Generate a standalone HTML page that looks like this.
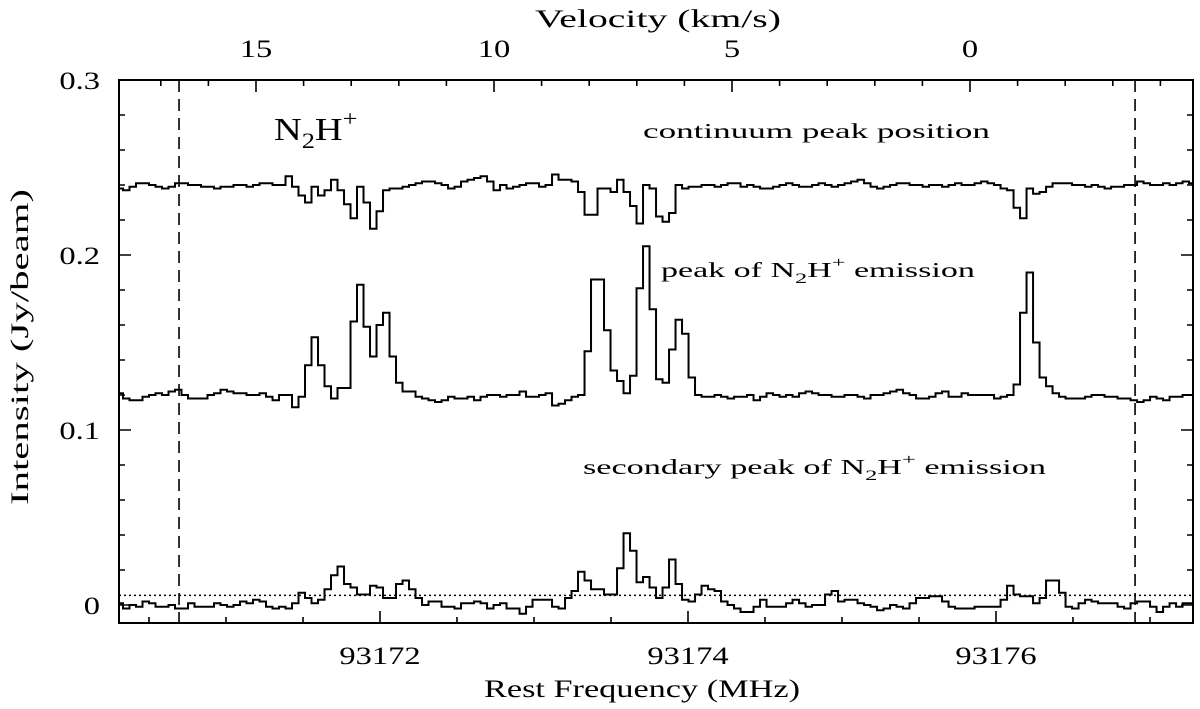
<!DOCTYPE html>
<html><head><meta charset="utf-8"><style>
html,body{margin:0;padding:0;background:#fff;}
svg{display:block;font-family:"Liberation Serif",serif;}
</style></head><body>
<svg id="chart" width="1200" height="709" viewBox="0 0 1200 709" xmlns="http://www.w3.org/2000/svg">
<g id="axes"></g>
<g id="series"></g>
<text x="642" y="697" font-size="25" text-anchor="middle" textLength="316" lengthAdjust="spacingAndGlyphs">Rest Frequency (MHz)</text>
<text x="658" y="27" font-size="25" text-anchor="middle" textLength="246" lengthAdjust="spacingAndGlyphs">Velocity (km/s)</text>
<text transform="translate(28,347) rotate(-90)" font-size="25" text-anchor="middle" textLength="316" lengthAdjust="spacingAndGlyphs">Intensity (Jy/beam)</text>
<text transform="translate(274,140) scale(1.2,1)" font-size="32">N<tspan font-size="22" dy="8">2</tspan><tspan dy="-8">H</tspan><tspan font-size="22" dy="-14">+</tspan></text>
<text x="643" y="138" font-size="21" textLength="347" lengthAdjust="spacingAndGlyphs">continuum peak position</text>
<text transform="translate(661,277) scale(1.62,1)" font-size="21">peak of N<tspan font-size="15" dy="6">2</tspan><tspan dy="-6">H</tspan><tspan font-size="15" dy="-10">+</tspan><tspan dy="10"> emission</tspan></text>
<text transform="translate(583,474) scale(1.63,1)" font-size="21">secondary peak of N<tspan font-size="15" dy="6">2</tspan><tspan dy="-6">H</tspan><tspan font-size="15" dy="-10">+</tspan><tspan dy="10"> emission</tspan></text>
</svg>
<script>
// channel data (Jy/beam), channel index 0..165
const channelStartMHz = 93170.289;
const channelWidthMHz = 0.04221;
const contPeak = [0.238,0.237,0.239,0.241,0.241,0.240,0.239,0.238,0.239,0.241,0.241,0.240,0.240,0.239,0.239,0.238,0.239,0.239,0.240,0.240,0.239,0.240,0.241,0.241,0.240,0.240,
0.245,0.239,0.234,0.230,0.239,0.234,0.237,0.243,0.237,0.229,0.221,0.239,0.230,0.215,0.225,0.237,0.238,
0.238,0.239,0.240,0.241,0.242,0.242,0.241,0.240,0.238,0.239,0.242,0.243,0.244,0.245,0.242,0.237,0.240,0.238,0.239,0.240,0.241,0.241,0.239,
0.240,0.246,0.243,0.243,0.242,0.236,0.223,0.223,0.238,0.238,0.236,0.243,0.236,0.228,0.218,0.240,0.238,0.222,0.219,0.224,0.240,0.238,
0.239,0.239,0.240,0.240,0.239,0.240,0.241,0.241,0.239,0.240,0.239,0.238,0.238,0.239,0.240,0.241,0.240,0.239,0.239,0.240,0.241,0.240,0.239,0.240,0.241,0.242,0.243,0.241,0.239,0.238,0.239,0.240,0.241,0.241,0.240,0.240,0.239,0.240,0.240,0.239,0.240,0.241,0.240,0.240,0.241,0.242,0.241,0.240,0.238,
0.237,0.227,0.221,0.238,0.235,0.236,0.239,0.241,
0.241,0.241,0.240,0.240,0.239,0.240,0.239,0.238,0.239,0.239,0.240,0.240,0.242,0.241,0.240,0.240,0.241,0.240,0.241,0.242,0.241];
const emisPeak = [0.121,0.118,0.117,0.117,0.119,0.120,0.121,0.120,0.122,0.123,0.120,0.118,0.118,0.118,0.120,0.121,0.123,0.122,0.121,0.121,0.120,0.120,0.121,0.119,0.117,0.120,0.120,0.113,0.119,
0.137,0.153,0.137,0.125,0.118,0.124,0.124,0.162,0.183,0.159,0.142,0.160,0.167,0.142,0.127,0.122,
0.122,0.119,0.118,0.117,0.116,0.117,0.119,0.118,0.118,0.119,0.117,0.119,0.120,0.120,0.119,0.120,0.120,0.122,0.119,0.119,0.120,0.121,0.114,0.115,0.117,0.119,0.120,
0.145,0.186,0.186,0.157,0.134,0.128,0.121,0.131,0.181,0.205,0.169,0.129,0.127,0.146,0.163,0.155,0.130,
0.120,0.119,0.119,0.120,0.119,0.118,0.119,0.119,0.120,0.117,0.119,0.121,0.120,0.119,0.120,0.119,0.121,0.122,0.121,0.120,0.120,0.119,0.119,0.120,0.120,0.119,0.118,0.120,0.120,0.121,0.122,0.123,0.121,0.120,0.118,0.118,0.119,0.121,0.122,0.119,0.119,0.121,0.120,0.120,0.120,0.120,0.118,0.119,0.120,
0.126,0.167,0.190,0.150,0.130,0.125,0.121,
0.119,0.118,0.118,0.118,0.119,0.120,0.120,0.119,0.119,0.118,0.118,0.117,0.116,0.117,0.119,0.118,0.117,0.119,0.119,0.120,0.120];
const secPeak = [0.001,-0.002,0.000,-0.001,0.002,0.001,-0.001,-0.001,0.000,-0.002,-0.002,0.001,-0.001,-0.001,-0.001,0.001,0.000,-0.001,0.000,0.002,0.001,0.003,0.002,-0.001,-0.002,-0.001,-0.002,0.001,
0.007,0.004,0.001,0.003,0.009,0.017,0.022,0.012,0.010,0.006,0.006,0.011,0.010,0.004,0.004,0.012,0.014,0.009,0.004,0.000,0.002,
0.002,-0.001,-0.001,-0.002,0.001,0.001,0.002,0.001,-0.002,0.000,0.001,-0.002,
-0.002,-0.005,-0.001,0.003,0.003,0.003,-0.001,-0.002,
0.004,0.008,0.019,0.014,0.009,0.009,0.006,0.006,0.021,0.041,0.031,0.013,0.016,0.010,0.004,0.010,0.026,0.012,0.003,0.002,0.006,0.011,0.009,0.008,0.002,0.000,-0.002,-0.004,-0.004,-0.001,0.003,-0.001,-0.001,-0.001,0.001,0.003,0.001,-0.001,0.000,0.000,0.006,0.008,0.002,0.003,0.003,0.001,0.000,-0.001,-0.003,-0.002,0.000,-0.001,-0.002,
0.001,0.004,0.004,0.005,0.005,0.002,-0.001,-0.002,-0.002,-0.002,-0.001,-0.001,-0.001,-0.001,0.003,0.011,0.006,0.005,0.005,0.001,0.004,0.014,0.014,0.007,-0.001,-0.002,0.001,0.003,0.002,0.001,0.001,0.001,-0.001,-0.002,0.001,0.002,0.002,-0.001,-0.004,-0.001,0.001,-0.001,0.001,0.001];
const yTickLabels = ["0","0.1","0.2","0.3"];
const yTickValues = [0,0.1,0.2,0.3];
const freqTickValues = [93172,93174,93176];
const velTickValues = [15,10,5,0];
const dashedFreqs = [93170.695,93176.903];
const dottedLevel = 0.0055;

const L=119,R=1193,T=80,B=623;
const fRef=93172, xRef=380, pxPerMHz=154;
function X(f){return xRef+(f-fRef)*pxPerMHz;}
function Y(v){return 605-v*1750;}
const velZeroX=970, pxPerKms=47.6;
function XV(v){return velZeroX-v*pxPerKms;}
const NS="http://www.w3.org/2000/svg";
const axes=document.getElementById('axes');
const series=document.getElementById('series');
function mk(tag,attrs,parent){const e=document.createElementNS(NS,tag);for(const k in attrs)e.setAttribute(k,attrs[k]);parent.appendChild(e);return e;}

const fr=mk('rect',{x:L,y:T,width:R-L,height:B-T,fill:'none',stroke:'#000','stroke-width':2},axes);



let d='';
for(let k=0;k<=0.3001;k+=0.02){const y=Y(k);const major=Math.abs(k*10-Math.round(k*10))<1e-6;const len=major?12:6;d+=`M${L},${y}h${len}M${R},${y}h${-len}`;}
for(let f=93170.5;f<=93177.01;f+=0.5){const x=X(f);const major=Math.abs(f/2-Math.round(f/2))<1e-6;const len=major?12:6;d+=`M${x},${B}v${-len}`;}
for(let v=-6;v<=18;v++){const x=XV(v);if(x<L||x>R)continue;const len=(v%5===0)?12:6;d+=`M${x},${T}v${len}`;}
const tk=mk('path',{d:d,stroke:'#000','stroke-width':1.6,fill:'none'},axes);



yTickValues.forEach((v,i)=>{const t=mk('text',{transform:`translate(100,${Y(v)+9}) scale(1.3,1)`,'font-size':25,'text-anchor':'end'},axes);t.textContent=yTickLabels[i];

});
freqTickValues.forEach(f=>{const t=mk('text',{transform:`translate(${X(f)},664) scale(1.3,1)`,'font-size':25,'text-anchor':'middle'},axes);t.textContent=String(f);

});
velTickValues.forEach(v=>{const t=mk('text',{transform:`translate(${XV(v)},57) scale(1.3,1)`,'font-size':25,'text-anchor':'middle'},axes);t.textContent=String(v);

});

dashedFreqs.forEach(f=>{const l=mk('line',{x1:X(f),x2:X(f),y1:T,y2:B,stroke:'#000','stroke-width':1.6,'stroke-dasharray':'12,7'},series);

});
const dl=mk('line',{x1:L,x2:R,y1:Y(dottedLevel),y2:Y(dottedLevel),stroke:'#000','stroke-width':1.4,'stroke-dasharray':'2,3'},series);



function hist(arr){let p='';for(let i=0;i<arr.length;i++){const x0=Math.max(L,X(channelStartMHz+i*channelWidthMHz));const x1=Math.min(R,X(channelStartMHz+(i+1)*channelWidthMHz));if(x1<=L||x0>=R)continue;const y=Y(arr[i]);p+=(p===''?`M${x0},${y}`:`V${y}`)+`H${x1}`;}return p;}
[[contPeak,'spectrum-continuum-peak'],[emisPeak,'spectrum-emission-peak'],[secPeak,'spectrum-secondary-peak']].forEach(([a,n])=>{
const p=mk('path',{d:hist(a),fill:'none',stroke:'#000','stroke-width':2},series);

});
</script>
</body></html>
